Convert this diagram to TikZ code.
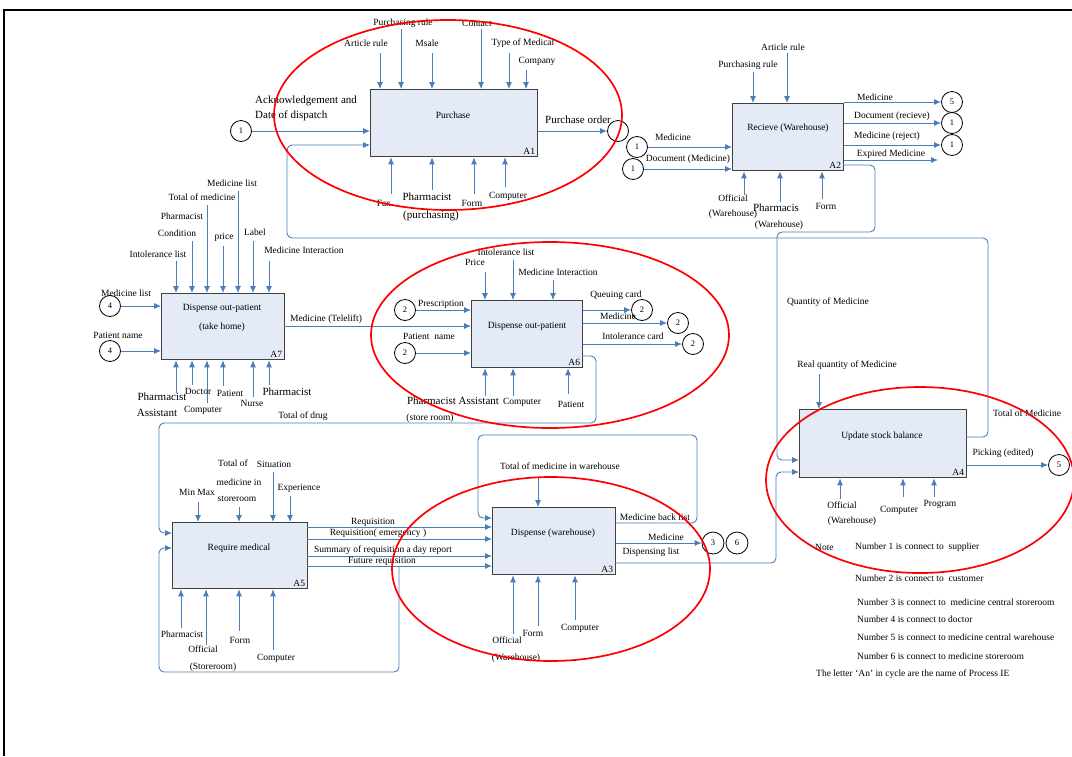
\documentclass[tikz,border=0pt]{standalone}
\usepackage{fontspec}
\setmainfont{Liberation Serif}
\usetikzlibrary{arrows.meta}
\definecolor{ablue}{HTML}{4A7EBB}
\definecolor{bfill}{HTML}{E4EBF6}
\definecolor{bdraw}{HTML}{404040}
\newcommand{\lbl}[3]{\node[lab] (#1) at (#2) {#3};}
\newcommand{\lblb}[3]{\node[labbig] (#1) at (#2) {#3};}
\newcommand{\lblw}[3]{\node[lab,anchor=west] (#1) at (#2) {#3};}
\newcommand{\arrdown}[3]{\coordinate (#1) at (#2); \draw[arr] (#1) -- (#1 |- #3.north);}
\newcommand{\arrup}[3]{\coordinate (#1) at (#2); \draw[arr] (#1) -- (#1 |- #3.south);}
\begin{document}
\begin{tikzpicture}[x=1pt,y=-1pt,
  box/.style={draw=bdraw, fill=bfill, line width=1.3pt, inner sep=0, anchor=north west},
  btext/.style={inner sep=0, font=\fontsize{9.5}{11}\selectfont},
  idl/.style={inner sep=0, anchor=south east, font=\fontsize{9.5}{11}\selectfont},
  lab/.style={inner sep=0, font=\fontsize{9.5}{11}\selectfont},
  labbig/.style={inner sep=0, font=\fontsize{11}{13}\selectfont},
  arr/.style={draw=ablue, line width=0.9pt, -{Latex[length=7pt,width=6pt]}},
  circ/.style={draw, circle, minimum size=21pt, inner sep=0, line width=0.8pt, font=\fontsize{8.5}{9}\selectfont},
  redell/.style={draw=red, line width=1.7pt},
  rc/.style={rounded corners=5pt}]
\useasboundingbox (0,0) rectangle (1072,756);
\fill[white] (0,0) rectangle (1072,756);
\draw[line width=1.6pt] (4,756) -- (4,10) -- (1072,10);

% ---------- boxes ----------
\node[box, minimum width=167pt, minimum height=67pt] (A1) at (370,89) {};
\node[box, minimum width=111pt, minimum height=67pt] (A2) at (732,103) {};
\node[box, minimum width=123pt, minimum height=66pt] (A7) at (161,293) {};
\node[box, minimum width=111pt, minimum height=67pt] (A6) at (471,300) {};
\node[box, minimum width=135pt, minimum height=66pt] (A5) at (172,522) {};
\node[box, minimum width=123pt, minimum height=67pt] (A3) at (492,507) {};
\node[box, minimum width=167pt, minimum height=68pt] (A4) at (799,409) {};

\node[btext] (A1t) at (453,115) {Purchase};
\node[btext] (A2t) at (788,128) {Recieve (Warehouse)};
\node[btext] (A7t) at (222,308) {Dispense out-patient};
\node[btext] (A7u) at (222,327) {(take home)};
\node[btext] (A6t) at (527,326) {Dispense out-patient};
\node[btext] (A5t) at (239,548) {Require medical};
\node[btext] (A3t) at (553,533) {Dispense (warehouse)};
\node[btext] (A4t) at (882,436) {Update stock balance};

\node[idl] (A1i) at ([xshift=-3pt,yshift=3pt]A1.south east) {A1};
\node[idl] (A2i) at ([xshift=-3pt,yshift=3pt]A2.south east) {A2};
\node[idl] (A7i) at ([xshift=-3pt,yshift=3pt]A7.south east) {A7};
\node[idl] (A6i) at ([xshift=-3pt,yshift=3pt]A6.south east) {A6};
\node[idl] (A5i) at ([xshift=-3pt,yshift=3pt]A5.south east) {A5};
\node[idl] (A3i) at ([xshift=-3pt,yshift=3pt]A3.south east) {A3};
\node[idl] (A4i) at ([xshift=-3pt,yshift=3pt]A4.south east) {A4};

% ---------- A1 ----------
\arrdown{a1c1}{380,53}{A1}
\arrdown{a1c2}{401,29}{A1}
\arrdown{a1c3}{432,53}{A1}
\arrdown{a1c4}{481,29}{A1}
\arrdown{a1c5}{509,53}{A1}
\arrdown{a1c6}{526,70}{A1}
\lbl{l1}{403,23}{Purchasing rule}
\lbl{l2}{366,43}{Article rule}
\lbl{l3}{427,43}{Msale}
\lbl{l4}{477,23}{Contact}
\lbl{l5}{523,43}{Type of Medical}
\lbl{l6}{537,61}{Company}
\arrup{a1m1}{391,194}{A1}
\arrup{a1m2}{432,190}{A1}
\arrup{a1m3}{474,194}{A1}
\arrup{a1m4}{505,187}{A1}
\lbl{l7}{384,203}{Fax}
\lblb{l8}{427,197}{Pharmacist}
\lblb{l9}{431,216}{(purchasing)}
\lbl{l10}{472,203}{Form}
\lbl{l11}{508,196}{Computer}
\node[circ] (ci1) at (241,131) {1};
\draw[arr] (ci1) -- (ci1 -| A1.west);
\node[labbig,anchor=west] (l12) at (255,101) {Acknowledgement and};
\node[labbig,anchor=west] (l13) at (255,116) {Date of dispatch};
\node[circ] (ciP) at (618,131) {};
\draw[arr] (A1.east |- ciP) -- (ciP.west);
\lblb{l14}{578,120}{Purchase order}

% ---------- A2 ----------
\arrdown{a2c1}{753,72}{A2}
\arrdown{a2c2}{787,53}{A2}
\lbl{l15}{748,65}{Purchasing rule}
\lbl{l16}{783,47}{Article rule}
\node[circ] (ci2) at (637,147) {1};
\node[circ] (ci3) at (633,169) {1};
\draw[arr] (ci2) -- (ci2 -| A2.west);
\draw[arr] (ci3) -- (ci3 -| A2.west);
\lbl{l17}{673,137}{Medicine}
\lbl{l18}{688,159}{Document (Medicine)}
\node[circ] (ci4) at (952,102) {5};
\node[circ] (ci5) at (952,123) {1};
\node[circ] (ci6) at (952,145) {1};
\draw[arr] (A2.east |- ci4) -- (ci4.west);
\draw[arr] (A2.east |- ci5) -- (ci5.west);
\draw[arr] (A2.east |- ci6) -- (ci6.west);
\coordinate (exp) at (938,160);
\draw[arr] (A2.east |- exp) -- (exp);
\lbl{l19}{875,97}{Medicine}
\lbl{l20}{892,116}{Document (recieve)}
\lbl{l21}{887,136}{Medicine (reject)}
\lbl{l22}{891,154}{Expired Medicine}
\arrup{a2m1}{744,195}{A2}
\arrup{a2m2}{780,202}{A2}
\arrup{a2m3}{822,199}{A2}
\lbl{l23}{733,198}{Official}
\lbl{l24}{733,214}{(Warehouse)}
\lblb{l25}{776,208}{Pharmacis}
\lbl{l26}{779,225}{(Warehouse)}
\lbl{l27}{826,206}{Form}

% A2 -> A4 (Quantity of Medicine)
\coordinate (a2q) at (843,165);
\coordinate (a4q) at (777,460);
\draw[arr, rc] (a2q) -- (875,165) -- (875,232) -- (777,232) -- (a4q) -- (a4q -| A4.west);
\lbl{l28}{828,302}{Quantity of Medicine}

% A4 -> A1 (Total of Medicine)
\coordinate (a4t) at (966,437);
\coordinate (a1t) at (287,145);
\draw[arr, rc] (a4t) -- (988,437) -- (988,238) -- (287,238) -- (a1t) -- (a1t -| A1.west);
\lbl{l29}{1027,413}{Total of Medicine}

% ---------- A7 ----------
\arrdown{a7c1}{176,261}{A7}
\arrdown{a7c2}{192,241}{A7}
\arrdown{a7c3}{207,205}{A7}
\arrdown{a7c4}{223,246}{A7}
\arrdown{a7c5}{238,191}{A7}
\arrdown{a7c6}{253,241}{A7}
\arrdown{a7c7}{269,261}{A7}
\lbl{l30}{158,254}{Intolerance list}
\lbl{l31}{177,233}{Condition}
\lbl{l32}{182,216}{Pharmacist}
\lbl{l33}{202,197}{Total of medicine}
\lbl{l34}{224,237}{price}
\lbl{l35}{232,183}{Medicine list}
\lbl{l36}{255,232}{Label}
\lbl{l37}{304,250}{Medicine Interaction}
\node[circ] (ci7) at (110,306) {4};
\node[circ] (ci8) at (110,351) {4};
\draw[arr] (ci7) -- (ci7 -| A7.west);
\draw[arr] (ci8) -- (ci8 -| A7.west);
\lbl{l38}{126,293}{Medicine list}
\lbl{l39}{118,335}{Patient name}
\arrup{a7m1}{176,393}{A7}
\arrup{a7m2}{192,385}{A7}
\arrup{a7m3}{207,403}{A7}
\arrup{a7m4}{223,386}{A7}
\arrup{a7m5}{253,397}{A7}
\arrup{a7m6}{269,385}{A7}
\lblb{l40}{162,397}{Pharmacist}
\lblb{l41}{157,413}{Assistant}
\lbl{l42}{198,391}{Doctor}
\lbl{l43}{203,410}{Computer}
\lbl{l44}{230,393}{Patient}
\lbl{l45}{252,403}{Nurse}
\lblb{l46}{287,392}{Pharmacist}
\coordinate (tl) at (284,326);
\draw[arr] (tl) -- (tl -| A6.west);
\lbl{l47}{326,319}{Medicine (Telelift)}

% ---------- A6 ----------
\arrdown{a6c1}{485,272}{A6}
\arrdown{a6c2}{513,260}{A6}
\arrdown{a6c3}{553,280}{A6}
\lbl{l48}{475,262}{Price}
\lbl{l49}{506,252}{Intolerance list}
\lbl{l50}{558,272}{Medicine Interaction}
\node[circ] (ci9) at (405,310) {2};
\node[circ] (ci10) at (405,353) {2};
\draw[arr] (ci9) -- (ci9 -| A6.west);
\draw[arr] (ci10) -- (ci10 -| A6.west);
\lbl{l51}{441,304}{Prescription}
\lbl{l52}{429,336}{Patient \ name}
\node[circ] (ci11) at (642,310) {2};
\node[circ] (ci12) at (678,323) {2};
\node[circ] (ci13) at (693,344) {2};
\draw[arr] (A6.east |- ci11) -- (ci11.west);
\draw[arr] (A6.east |- ci12) -- (ci12.west);
\draw[arr] (A6.east |- ci13) -- (ci13.west);
\lbl{l53}{616,295}{Queuing card}
\lbl{l54}{618,316}{Medicine}
\lbl{l55}{633,336}{Intolerance card}
\arrup{a6m1}{485,396}{A6}
\arrup{a6m2}{513,396}{A6}
\arrup{a6m3}{568,394}{A6}
\lblb{l56}{453,401}{Pharmacist Assistant}
\lbl{l57}{430,418}{(store room)}
\lbl{l58}{522,402}{Computer}
\lbl{l59}{571,404}{Patient}
% A6 -> A5 (Total of drug)
\coordinate (a6t) at (582,356);
\coordinate (a5t) at (159,533);
\draw[arr, rc] (a6t) -- (596,356) -- (596,423) -- (159,423) -- (a5t) -- (a5t -| A5.west);
\lbl{l60}{303,416}{Total of drug}

% ---------- A5 ----------
\arrdown{a5c1}{198,502}{A5}
\arrdown{a5c2}{239,507}{A5}
\arrdown{a5c3}{273,472}{A5}
\arrdown{a5c4}{290,496}{A5}
\lbl{l61}{197,492}{Min Max}
\lbl{l62}{233,463}{Total of}
\lbl{l63}{239,482}{medicine in}
\lbl{l64}{237,499}{storeroom}
\lbl{l65}{274,464}{Situation}
\lbl{l66}{299,488}{Experience}
\arrup{a5m1}{181,628}{A5}
\arrup{a5m2}{206,645}{A5}
\arrup{a5m3}{239,631}{A5}
\arrup{a5m4}{273,650}{A5}
\lbl{l67}{182,634}{Pharmacist}
\lbl{l68}{203,649}{Official}
\lbl{l69}{213,667}{(Storeroom)}
\lbl{l70}{240,640}{Form}
\lbl{l71}{276,658}{Computer}
\foreach \yy/\nn in {527/rq1,539/rq2,556/rq3,566/rq4}{
  \coordinate (\nn) at (307,\yy);
  \draw[arr] (\nn) -- (\nn -| A3.west);
}
\lbl{l72}{373,522}{Requisition}
\lbl{l73}{378,533}{Requisition( emergency )}
\lbl{l74}{383,550}{Summary of requisition a day report}
\lbl{l75}{382,561}{Future requisition}
\coordinate (fr) at (399,566);
\coordinate (a5l) at (159,548);
\draw[arr, rc] (fr) -- (399,672) -- (159,672) -- (a5l) -- (a5l -| A5.west);

% ---------- A3 ----------
\arrdown{a3c1}{538,478}{A3}
\lbl{l76}{560,466}{Total of medicine in warehouse}
\coordinate (bl) at (615,523);
\coordinate (bl2) at (478,518);
\draw[arr, rc] (bl) -- (697,523) -- (697,435) -- (478,435) -- (bl2) -- (bl2 -| A3.west);
\lbl{l77}{655,517}{Medicine back list}
\node[circ, minimum size=22pt] (ci14) at (713,543) {3};
\node[circ, minimum size=22pt] (ci15) at (737,543) {6};
\draw[arr] (A3.east |- ci14) -- (ci14.west);
\lbl{l78}{666,537}{Medicine}
\coordinate (dl) at (615,563);
\coordinate (dl2) at (776,472);
\draw[arr, rc] (dl) -- (776,563) -- (dl2) -- (dl2 -| A4.west);
\lbl{l79}{651,552}{Dispensing list}
\arrup{a3m1}{513,634}{A3}
\arrup{a3m2}{538,626}{A3}
\arrup{a3m3}{575,620}{A3}
\lbl{l80}{507,640}{Official}
\lbl{l81}{516,658}{(Warehouse)}
\lbl{l82}{533,633}{Form}
\lbl{l83}{580,628}{Computer}

% ---------- A4 ----------
\arrdown{a4c1}{819,374}{A4}
\lbl{l84}{847,365}{Real quantity of Medicine}
\node[circ] (ci16) at (1059,465) {5};
\draw[arr] (A4.east |- ci16) -- (ci16.west);
\lbl{l85}{1003,453}{Picking (edited)}
\arrup{a4m1}{840,499}{A4}
\arrup{a4m2}{903,497}{A4}
\arrup{a4m3}{934,497}{A4}
\lbl{l86}{842,505}{Official}
\lbl{l87}{852,521}{(Warehouse)}
\lbl{l88}{899,510}{Computer}
\lbl{l89}{940,504}{Program}

% ---------- notes ----------
\lblw{n0}{815,547}{Note}
\lblw{n1}{855,547}{Number 1 is connect to \ supplier}
\lblw{n2}{855,578}{Number 2 is connect to \ customer}
\lblw{n3}{857,602}{Number 3 is connect to \ medicine central storeroom}
\lblw{n4}{857,619}{Number 4 is connect to doctor}
\lblw{n5}{857,637}{Number 5 is connect to medicine central warehouse}
\lblw{n6}{857,656}{Number 6 is connect to medicine storeroom}
\lblw{n7}{816,674}{The letter `An' in cycle are the name of Process IE}

% ---------- red ellipses ----------
\draw[redell] (448,115) ellipse [x radius=174pt, y radius=95pt];
\draw[redell] (550,335) ellipse [x radius=179pt, y radius=93pt];
\draw[redell] (551,569) ellipse [x radius=159pt, y radius=92pt];
\draw[redell] (920,480) ellipse [x radius=154pt, y radius=93pt];
\end{tikzpicture}
\end{document}
